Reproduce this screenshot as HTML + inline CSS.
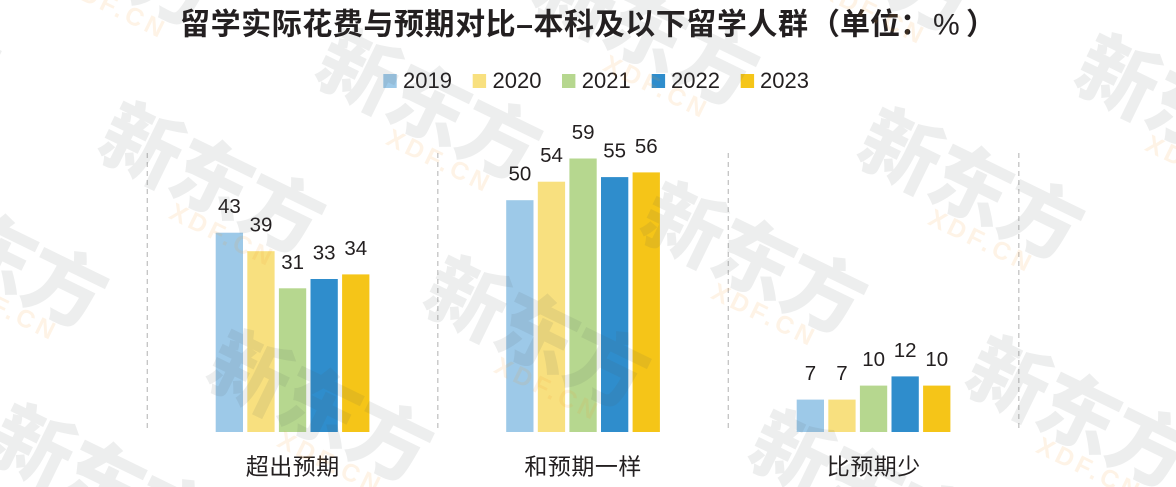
<!DOCTYPE html>
<html><head><meta charset="utf-8"><style>
html,body{margin:0;padding:0;background:#fff;width:1176px;height:487px;overflow:hidden;}
svg{display:block;overflow:hidden;}
</style></head><body>
<svg width="1176" height="487" viewBox="0 0 1176 487" xmlns="http://www.w3.org/2000/svg">
<rect width="1176" height="487" fill="#ffffff"/>

<!-- dashed separators -->
<g stroke="#c4c4c4" stroke-width="1.3" stroke-dasharray="5,4">
<line x1="147.3" y1="153" x2="147.3" y2="428"/>
<line x1="437.8" y1="153" x2="437.8" y2="428"/>
<line x1="728.3" y1="153" x2="728.3" y2="428"/>
<line x1="1018.8" y1="153" x2="1018.8" y2="428"/>
</g>

<!-- title -->
<g font-family="'Liberation Sans','Noto Sans CJK SC',sans-serif" font-weight="bold" font-size="30" fill="#231f20">
<text x="180" y="34.5" textLength="628" lengthAdjust="spacing">留学实际花费与预期对比–本科及以下留学人群</text>
<text x="810" y="34.5">（</text>
<text x="840" y="34.5">单位：</text>
<text x="933" y="34.5" font-weight="normal">%</text>
<text x="966" y="34.5">）</text>
</g>

<!-- legend -->
<g font-family="'Liberation Sans',sans-serif" font-size="22" fill="#231f20">
<rect x="383.3" y="74" width="13.4" height="14" fill="#9dc9e8"/><text x="403" y="88">2019</text>
<rect x="472.7" y="74" width="13.4" height="14" fill="#f8e07f"/><text x="492.5" y="88">2020</text>
<rect x="562" y="74" width="13.4" height="14" fill="#b6d78f"/><text x="581.8" y="88">2021</text>
<rect x="651.7" y="74" width="13.4" height="14" fill="#2f8dcc"/><text x="671" y="88">2022</text>
<rect x="740.7" y="74" width="13.4" height="14" fill="#f5c518"/><text x="760" y="88">2023</text>
</g>

<!-- bars -->
<g>
<rect x="215.7" y="232.7" width="27.3" height="199.3" fill="#9dc9e8"/>
<rect x="247.3" y="251.2" width="27.3" height="180.8" fill="#f8e07f"/>
<rect x="278.9" y="288.3" width="27.3" height="143.7" fill="#b6d78f"/>
<rect x="310.5" y="279.0" width="27.3" height="153.0" fill="#2f8dcc"/>
<rect x="342.1" y="274.4" width="27.3" height="157.6" fill="#f5c518"/>

<rect x="506.2" y="200.2" width="27.3" height="231.8" fill="#9dc9e8"/>
<rect x="537.8" y="181.7" width="27.3" height="250.3" fill="#f8e07f"/>
<rect x="569.4" y="158.5" width="27.3" height="273.5" fill="#b6d78f"/>
<rect x="601.0" y="177.1" width="27.3" height="254.9" fill="#2f8dcc"/>
<rect x="632.6" y="172.4" width="27.3" height="259.6" fill="#f5c518"/>

<rect x="796.7" y="399.6" width="27.3" height="32.4" fill="#9dc9e8"/>
<rect x="828.3" y="399.6" width="27.3" height="32.4" fill="#f8e07f"/>
<rect x="859.9" y="385.6" width="27.3" height="46.4" fill="#b6d78f"/>
<rect x="891.5" y="376.4" width="27.3" height="55.6" fill="#2f8dcc"/>
<rect x="923.1" y="385.6" width="27.3" height="46.4" fill="#f5c518"/>
</g>

<!-- value labels -->
<g font-family="'Liberation Sans',sans-serif" font-size="20.5" fill="#231f20" text-anchor="middle">
<text x="229.4" y="213.2">43</text>
<text x="261.0" y="231.7">39</text>
<text x="292.6" y="268.8">31</text>
<text x="324.2" y="259.5">33</text>
<text x="355.8" y="254.9">34</text>

<text x="519.9" y="180.7">50</text>
<text x="551.5" y="162.2">54</text>
<text x="583.1" y="139.0">59</text>
<text x="614.7" y="157.6">55</text>
<text x="646.3" y="152.9">56</text>

<text x="810.4" y="380.1">7</text>
<text x="842.0" y="380.1">7</text>
<text x="873.6" y="366.1">10</text>
<text x="905.2" y="356.9">12</text>
<text x="936.8" y="366.1">10</text>
</g>

<!-- category labels -->
<g font-family="'Liberation Sans','Noto Sans CJK SC',sans-serif" font-size="23" fill="#231f20" text-anchor="middle">
<text x="292.7" y="474.5" letter-spacing="0.5">超出预期</text>
<text x="583.1" y="474.5" letter-spacing="0.5">和预期一样</text>
<text x="873.7" y="474.5" letter-spacing="0.5">比预期少</text>
</g>

<!-- watermark -->
<defs>
<g id="wm">
<text x="-40" y="29" font-family="'Noto Sans CJK SC',sans-serif" font-weight="900" font-size="80" letter-spacing="-2" fill="#4a5a54" fill-opacity="0.10">新东方</text>
<text x="112" y="54" text-anchor="middle" font-family="'Liberation Sans',sans-serif" font-weight="bold" font-size="25" letter-spacing="4" fill="#f59a30" fill-opacity="0.12">XDF.CN</text>
</g>
</defs>
<g>
<use href="#wm" transform="translate(-183,-9) rotate(26)"/>
<use href="#wm" transform="translate(34,-83) rotate(26)"/>
<use href="#wm" transform="translate(-75,219) rotate(26)"/>
<use href="#wm" transform="translate(142,145) rotate(26)"/>
<use href="#wm" transform="translate(359,71) rotate(26)"/>
<use href="#wm" transform="translate(576,-3) rotate(26)"/>
<use href="#wm" transform="translate(793,-77) rotate(26)"/>
<use href="#wm" transform="translate(33,447) rotate(26)"/>
<use href="#wm" transform="translate(250,373) rotate(26)"/>
<use href="#wm" transform="translate(467,299) rotate(26)"/>
<use href="#wm" transform="translate(684,225) rotate(26)"/>
<use href="#wm" transform="translate(901,151) rotate(26)"/>
<use href="#wm" transform="translate(1118,77) rotate(26)"/>
<use href="#wm" transform="translate(792,453) rotate(26)"/>
<use href="#wm" transform="translate(1009,379) rotate(26)"/>
</g>
</svg>
</body></html>
